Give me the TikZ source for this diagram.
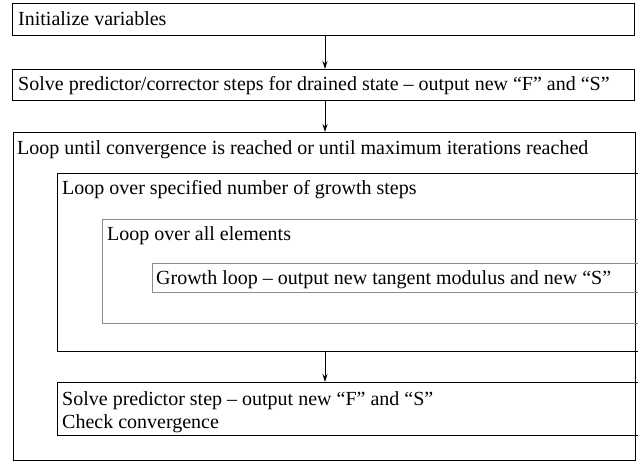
\documentclass[tikz,border=0pt]{standalone}
\usepackage{fontspec}
\setmainfont{Liberation Serif}
\usetikzlibrary{arrows.meta}
\definecolor{innergray}{RGB}{140,140,140}
\tikzset{
  box/.style={draw=black, line width=1.3bp, anchor=north west, inner sep=0pt},
  graybox/.style={draw=innergray, line width=1bp, anchor=north west, inner sep=0pt},
  txt/.style={anchor=base west, inner sep=0pt, font=\fontsize{20bp}{23bp}\selectfont},
  flow/.style={-{Stealth[length=8bp,width=5bp]}, line width=1bp}
}
\begin{document}
\begin{tikzpicture}[x=1bp,y=-1bp]
\useasboundingbox (0,0) rectangle (638,462);
\clip (0,0) rectangle (638,462);
% boxes
\node[box, minimum width=622bp, minimum height=32bp] (b1) at (12,3) {};
\node[box, minimum width=622bp, minimum height=31bp] (b2) at (12,69) {};
\node[box, minimum width=622bp, minimum height=328bp] (b3) at (13,132) {};
\node[box, minimum width=620bp, minimum height=178bp] (b4) at (57,173) {};
\node[graybox, minimum width=580bp, minimum height=104bp] (b5) at (102,219) {};
\node[graybox, minimum width=530bp, minimum height=29bp] (b6) at (152,263) {};
\node[box, minimum width=620bp, minimum height=53bp] (b7) at (57,382) {};
% texts
\node[txt] (t1) at (18,26) {Initialize variables};
\node[txt] (t2) at (18,91) {Solve predictor/corrector steps for drained state – output new “F” and “S”};
\node[txt] (t3) at (17,155) {Loop until convergence is reached or until maximum iterations reached};
\node[txt] (t4) at (62,195) {Loop over specified number of growth steps};
\node[txt] (t5) at (107,241) {Loop over all elements};
\node[txt] (t6) at (156,285) {Growth loop – output new tangent modulus and new “S”};
\node[txt] (t7) at (62,405) {Solve predictor step – output new “F” and “S”};
\node[txt] (t8) at (62,428) {Check convergence};
% arrows
\coordinate (ax) at (325,0);
\draw[flow] (b1.south -| ax) -- (b2.north -| ax);
\draw[flow] (b2.south -| ax) -- (b3.north -| ax);
\draw[flow] (b4.south -| ax) -- (b7.north -| ax);
\end{tikzpicture}
\end{document}
